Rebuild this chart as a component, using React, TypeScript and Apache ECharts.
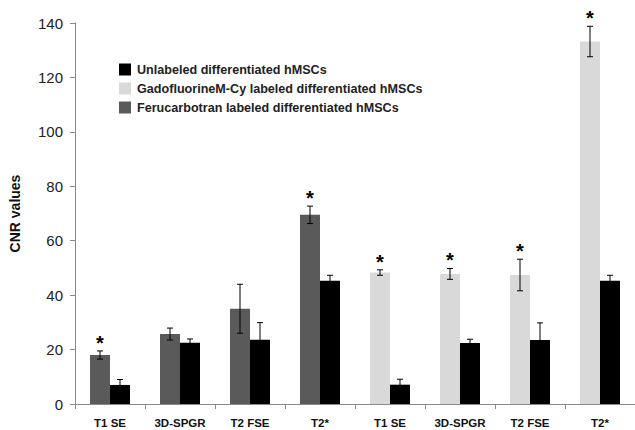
import React, { useEffect, useRef } from "react";
import * as echarts from "echarts";

const categories = ["T1 SE", "3D-SPGR", "T2 FSE", "T2*", "T1 SE", "3D-SPGR", "T2 FSE", "T2*"];
const ferucarbotran: (number | string)[] = [18, 25.7, 35, 69.5, "-", "-", "-", "-"];
const ferucarbotranErr = [1.5, 2.2, 9, 3.2, 0, 0, 0, 0];
const gadofluorine: (number | string)[] = ["-", "-", "-", "-", 48.3, 47.8, 47.4, 133.2];
const gadofluorineErr = [0, 0, 0, 0, 1, 2, 5.8, 5.6];
const unlabeled = [7, 22.5, 23.6, 45.3, 7.1, 22.4, 23.5, 45.3];
const unlabeledErr = [2, 1.4, 6.3, 2, 2, 1.4, 6.3, 2];
const significant = [1, 0, 0, 1, 1, 1, 1, 1];
const yTicks = { min: 0, max: 140, interval: 20 };

const FONT = "Liberation Sans, Arial, sans-serif";
const BAR_W = 20;

export default function App() {
  const ref = useRef<HTMLDivElement>(null);
  useEffect(() => {
    if (!ref.current) return;
    const chart = echarts.init(ref.current, undefined, { renderer: "svg" });

    const errData: number[][] = [];
    categories.forEach((_, i) => {
      const labeledVal = typeof ferucarbotran[i] === "number" ? (ferucarbotran[i] as number) : (gadofluorine[i] as number);
      const labeledErr = typeof ferucarbotran[i] === "number" ? ferucarbotranErr[i] : gadofluorineErr[i];
      errData.push([i, labeledVal, labeledErr, 0, significant[i]]);
      errData.push([i, unlabeled[i], unlabeledErr[i], 1, 0]);
    });

    chart.setOption({
      animation: false,
      textStyle: { fontFamily: FONT },
      grid: { left: 72, top: 23, width: 568, height: 381, containLabel: false },
      legend: {
        orient: "vertical",
        left: 114,
        top: 58,
        itemWidth: 12,
        itemHeight: 12,
        itemGap: 6,
        icon: "rect",
        data: ["Unlabeled differentiated hMSCs", "GadofluorineM-Cy labeled differentiated hMSCs", "Ferucarbotran labeled differentiated hMSCs"],
        textStyle: { fontFamily: FONT, fontWeight: "bold", fontSize: 12.6, color: "#222", padding: [0, 0, 0, 1] },
        selectedMode: false,
      },
      xAxis: {
        type: "category",
        data: categories,
        axisLine: { lineStyle: { color: "#8a8a8a", width: 1 } },
        axisTick: { show: true, length: 5, lineStyle: { color: "#8a8a8a" } },
        axisLabel: { fontFamily: FONT, fontWeight: "bold", fontSize: 11.5, color: "#111", margin: 13, interval: 0 },
      },
      yAxis: {
        type: "value",
        min: yTicks.min,
        max: yTicks.max,
        interval: yTicks.interval,
        name: "CNR values",
        nameLocation: "middle",
        nameGap: 53,
        nameTextStyle: { fontFamily: FONT, fontWeight: "bold", fontSize: 14, color: "#111" },
        axisLine: { show: true, lineStyle: { color: "#8a8a8a", width: 1 } },
        axisTick: { show: true, length: 5, lineStyle: { color: "#8a8a8a" } },
        axisLabel: { fontFamily: FONT, fontSize: 15, color: "#222", margin: 12 },
        splitLine: { show: false },
      },
      series: [
        {
          name: "Ferucarbotran labeled differentiated hMSCs",
          type: "bar",
          stack: "labeled",
          data: ferucarbotran,
          barWidth: BAR_W,
          barGap: "0%",
          itemStyle: { color: "#5a5a5a" },
        },
        {
          name: "GadofluorineM-Cy labeled differentiated hMSCs",
          type: "bar",
          stack: "labeled",
          data: gadofluorine,
          barWidth: BAR_W,
          barGap: "0%",
          itemStyle: { color: "#d9d9d9" },
        },
        {
          name: "Unlabeled differentiated hMSCs",
          type: "bar",
          stack: "unlabeled",
          data: unlabeled,
          barWidth: BAR_W,
          barGap: "0%",
          itemStyle: { color: "#000" },
        },
        {
          type: "custom",
          z: 10,
          clip: false,
          data: errData,
          renderItem: (params: any, api: any) => {
            const idx = api.value(0);
            const v = api.value(1);
            const e = api.value(2);
            const side = api.value(3);
            const star = api.value(4);
            const top = api.coord([idx, v + e]);
            const bot = api.coord([idx, v - e]);
            const x = top[0] + (side === 0 ? -BAR_W / 2 : BAR_W / 2);
            const st = { stroke: "#000", lineWidth: 1 };
            const children: any[] = [
              { type: "line", shape: { x1: x, y1: top[1], x2: x, y2: bot[1] }, style: st },
              { type: "line", shape: { x1: x - 3, y1: top[1], x2: x + 3, y2: top[1] }, style: st },
              { type: "line", shape: { x1: x - 3, y1: bot[1], x2: x + 3, y2: bot[1] }, style: st },
            ];
            if (star) {
              children.push({
                type: "text",
                style: {
                  text: "*",
                  x: x,
                  y: top[1] - 8,
                  align: "center",
                  verticalAlign: "middle",
                  fontSize: 20,
                  fontWeight: "bold",
                  fontFamily: FONT,
                  fill: "#000",
                },
              });
            }
            return { type: "group", children };
          },
        },
      ],
    });
    return () => chart.dispose();
  }, []);
  return <div ref={ref} style={{ width: 635, height: 430, position: "absolute", left: 0, top: 0 }} />;
}
